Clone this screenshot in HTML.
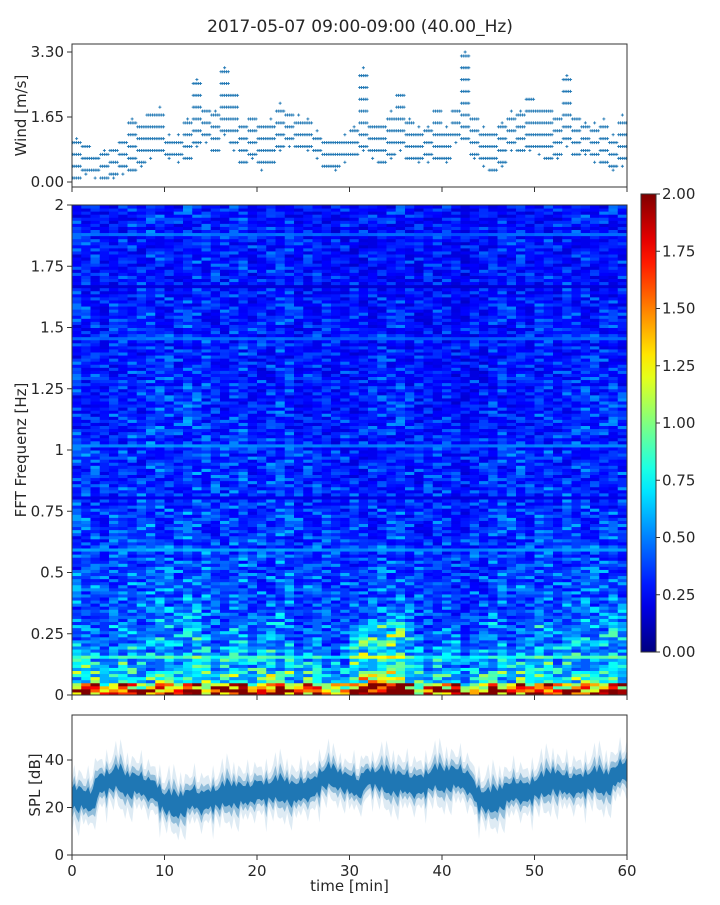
<!DOCTYPE html>
<html><head><meta charset="utf-8">
<style>
html,body{margin:0;padding:0;background:#fff;}
svg text{font-family:"DejaVu Sans","Liberation Sans",sans-serif;fill:#262626;}
</style></head>
<body>
<svg id="fig" width="720" height="900" viewBox="0 0 720 900" xmlns="http://www.w3.org/2000/svg">
<text x="360" y="32" font-size="17" text-anchor="middle">2017-05-07 09:00-09:00 (40.00_Hz)</text>
<g id="wind"></g>
<g id="spec"></g>
<g id="cbar"></g>
<g id="spl"></g>
</svg>
<script>
// ---- data ----
const windLow = [0.1,0.2,0.1,0.1,0.1,0.2,0.3,0.4,0.6,0.8,0.6,0.5,0.6,0.9,1.0,0.8,1.2,0.8,0.5,0.6,0.3,0.5,0.8,0.9,0.9,0.8,0.6,0.4,0.3,0.5,0.7,0.8,0.6,0.5,0.6,0.8,0.6,0.5,0.5,0.6,0.5,1.0,1.1,0.6,0.4,0.3,0.4,0.8,0.8,0.8,0.7,0.6,0.6,0.9,0.7,0.7,0.5,0.5,0.3,0.4];
const windHigh = [1.1,0.9,0.6,0.8,0.8,1.0,1.6,1.4,1.7,1.9,1.2,1.2,1.6,2.6,1.8,1.8,2.9,2.2,1.4,1.6,1.4,1.6,2.0,1.7,1.7,1.6,1.3,1.0,1.0,1.2,1.4,2.9,1.4,1.4,1.8,2.2,1.6,1.4,1.4,1.8,1.4,1.8,3.3,1.6,1.4,1.2,1.5,1.8,1.8,2.1,1.8,1.8,1.6,2.7,1.6,1.5,1.5,1.6,1.2,1.7];
const splCenter = [25,24,22,30,31,32,30,30,28,27,22,21,22,24,22,24,24,26,26,25,27,27,27,28,26,27,28,32,33,32,30,28,33,32,31,31,30,29,30,32,32,33,32,30,24,22,24,26,27,26,28,29,32,30,29,30,31,31,31,34,36];
const splSpread = [6,6,7,6,6,6,6,6,6,6,6,6,6,6,6,6,6,6,6,6,6,6,6,6,6,6,6,6,5,5,6,6,5,6,6,6,6,6,6,6,6,6,6,6,6,6,6,6,6,6,6,6,6,6,6,6,6,6,6,6,6];
const freqProfile = [1.35,0.7,0.58,0.52,0.48,0.45,0.43,0.41,0.4,0.39,0.38,0.37,0.36,0.35,0.35,0.34,0.34,0.33,0.33,0.33,0.32,0.32,0.32,0.31,0.31,0.31,0.3,0.3,0.3,0.3,0.3,0.3,0.29,0.29,0.29,0.29,0.29,0.29,0.29,0.29];
const colFactor = [1.0,1.05,1.0,0.95,1.0,1.0,1.05,1.0,1.1,1.1,1.05,1.0,1.1,1.1,1.05,1.0,1.0,1.0,1.05,1.0,0.95,1.0,1.05,1.0,0.95,0.95,1.0,0.95,0.9,0.95,0.9,0.9,0.95,1.0,1.0,1.0,0.95,0.9,0.9,0.95,0.9,0.85,0.85,0.9,0.9,0.95,0.95,1.0,1.0,0.95,1.0,1.0,0.95,1.0,1.0,1.05,1.0,1.0,1.0,1.0];
const lowBoost = [1.0,1.1,1.0,0.9,1.0,1.1,1.0,1.0,0.9,1.0,1.1,1.0,1.0,1.2,1.0,0.9,1.0,1.1,1.0,1.0,1.2,1.1,1.0,1.0,0.9,1.0,1.1,0.9,0.9,0.9,1.5,1.6,1.5,1.5,1.6,1.5,1.2,1.0,0.9,1.0,1.0,1.1,0.9,1.0,1.0,1.1,1.0,0.9,1.0,1.1,1.2,1.1,1.0,1.15,1.1,1.0,1.05,1.1,1.2,1.1];
const texture = [0.7,1.25,0.9,1.5,0.8,1.05,0.6,1.3,0.95,1.7,0.75,1.1,0.85,1.35,0.65,1.0,1.2,0.8,1.6,0.9,0.7,1.15,1.0];
const cbarTicks = [0,0.25,0.5,0.75,1.0,1.25,1.5,1.75,2.0];
const specTicks = [0,0.25,0.5,0.75,1,1.25,1.5,1.75,2];
const timeTicks = [0,10,20,30,40,50,60];
const windTicks = [0,1.65,3.3];
const splTicks = [0,20,40];

const NS="http://www.w3.org/2000/svg";
function mk(tag,attrs,parent){const e=document.createElementNS(NS,tag);for(const k in attrs)e.setAttribute(k,attrs[k]);parent.appendChild(e);return e;}
const X0=72,X1=627;
const xs=t=>X0+(t/60)*(X1-X0);
function jet(v){v=Math.max(0,Math.min(1,v));
 const c=x=>Math.round(255*Math.max(0,Math.min(1,x)));
 return `rgb(${c(1.5-Math.abs(4*v-3))},${c(1.5-Math.abs(4*v-2))},${c(1.5-Math.abs(4*v-1))})`;}

function axes(g,y0,y1,yt,ys,fmt,withX,ylabel,ylx){
 for(const t of timeTicks){
  const l=mk('line',{x1:xs(t),x2:xs(t),y1:y1,y2:y1+5,stroke:'#333','stroke-width':1},g);
  
  if(withX){const tx=mk('text',{x:xs(t),y:y1+21,'font-size':15,'text-anchor':'middle'},g);tx.textContent=t;
   }
 }
 for(const v of yt){const y=ys(v);
  const l=mk('line',{x1:X0-5,x2:X0,y1:y,y2:y,stroke:'#333','stroke-width':1},g);
  
  const tx=mk('text',{x:X0-8,y:y+5,'font-size':15,'text-anchor':'end'},g);tx.textContent=fmt(v);
  }
 const r=mk('rect',{x:X0,y:y0,width:X1-X0,height:y1-y0,fill:'none',stroke:'#333','stroke-width':1},g);
 
 const yl=mk('text',{x:ylx,y:(y0+y1)/2,'font-size':15,'text-anchor':'middle',transform:`rotate(-90 ${ylx} ${(y0+y1)/2})`},g);
 yl.textContent=ylabel;
}

// ---- wind ----
(function(){
 const g=document.getElementById('wind');
 const W0=44,W1=187;const ys=v=>182-(v/1.65)*65;
 for(let m=0;m<windLow.length;m++){
  for(let s=0;s<5;s++){
   const t=m+s/5+0.1;
   for(let v=windLow[m],j=0;v<=windHigh[m]+1e-6;v+=0.1,j++){
    const edge = v<windLow[m]+0.05 || v>windHigh[m]-0.05;
    if(((s*3+j*5+m)%3)!==0 && !(edge && s===2)) continue;
    const x=xs(t),y=ys(v);
    const p=mk('path',{d:`M${x-1.5},${y}h3M${x},${y-1.5}v3`,stroke:'#1f77b4','stroke-width':0.9},g);
    
   }
  }
 }
 axes(g,W0,W1,windTicks,ys,v=>v.toFixed(2),false,'Wind [m/s]',26);
})();

// ---- spectrogram ----
(function(){
 const g=document.getElementById('spec');
 const S0=205,S1=695;const ys=f=>S1-(f/2)*(S1-S0);
 const NR=160,df=2/NR;
 for(let c=0;c<60;c++){
  for(let r=0;r<NR;r++){
   const f=r*df;
   const base=freqProfile[Math.min(39,Math.floor(f/0.05))];
   const ti=(r*r*3+c*7+r*c+Math.floor(r/3)*c)%texture.length;
   let v=base*colFactor[c]*texture[ti];
   if(f<0.3) v*=lowBoost[c];
   if(f<0.025) v*=1.3;
   const y=ys(f+df);
   const rc=mk('rect',{x:xs(c),y:y,width:xs(c+1)-xs(c)+0.5,height:ys(f)-y+0.5,fill:jet(v/2)},g);
   
  }
 }
 axes(g,S0,S1,specTicks,ys,v=>String(v),false,'FFT Frequenz [Hz]',26);
})();

// ---- colorbar ----
(function(){
 const g=document.getElementById('cbar');
 const C0=194,C1=652,cx=641,cw=15;
 const defs=mk('defs',{},g);
 const lg=mk('linearGradient',{id:'jetg',x1:0,y1:1,x2:0,y2:0},defs);
 for(let i=0;i<=20;i++){mk('stop',{offset:i/20,'stop-color':jet(i/20)},lg);}
 const r=mk('rect',{x:cx,y:C0,width:cw,height:C1-C0,fill:'url(#jetg)',stroke:'#333','stroke-width':1},g);
 
 for(const v of cbarTicks){const y=C1-(v/2)*(C1-C0);
  const l=mk('line',{x1:cx+cw,x2:cx+cw+4,y1:y,y2:y,stroke:'#333'},g);
  
  const t=mk('text',{x:cx+cw+6,y:y+5,'font-size':15},g);t.textContent=v.toFixed(2);
  }
})();

// ---- SPL ----
(function(){
 const g=document.getElementById('spl');
 const P0=715,P1=855;const ys=v=>P1-v*(95/40);
 function band(k,op){
  const pts=[];
  const N=(splCenter.length-1)*4;
  for(let i=0;i<=N;i++){
   const m=Math.floor(i/4), fr=(i%4)/4;
   const c0=splCenter[m], c1=splCenter[Math.min(m+1,splCenter.length-1)];
   const c=c0+(c1-c0)*fr;
   const w=splSpread[m]*k*texture[(i*7)%texture.length];
   const w2=splSpread[m]*k*texture[(i*5+3)%texture.length];
   pts.push([xs(i/4),c+w,c-w2]);
  }
  let d='';
  pts.forEach((p,i)=>{d+=(i?'L':'M')+p[0].toFixed(1)+','+ys(p[1]).toFixed(1);});
  for(let i=pts.length-1;i>=0;i--){d+='L'+pts[i][0].toFixed(1)+','+ys(pts[i][2]).toFixed(1);}
  const p=mk('path',{d:d+'Z',fill:'#1f77b4','fill-opacity':op},g);
  
 }
 band(1.7,0.15);band(1.1,0.4);band(0.7,1);
 axes(g,P0,P1,splTicks,ys,v=>String(v),true,'SPL [dB]',40);
 const xl=mk('text',{x:(X0+X1)/2,y:891,'font-size':15,'text-anchor':'middle'},g);
 xl.textContent='time [min]';
})();
</script>
</body></html>
